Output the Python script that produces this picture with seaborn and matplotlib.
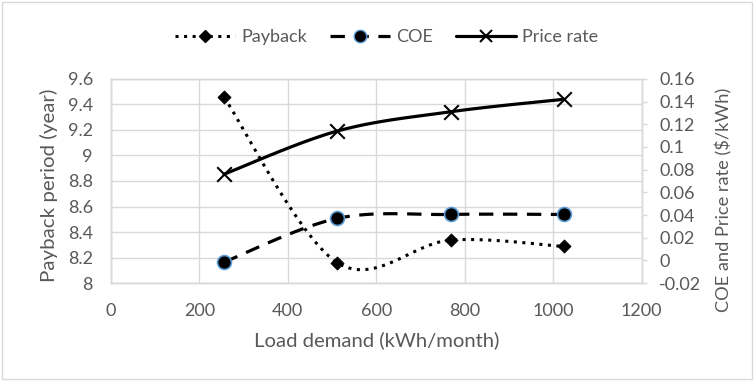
import numpy as np
import matplotlib
matplotlib.use("Agg")
import matplotlib.pyplot as plt
from matplotlib.lines import Line2D
from matplotlib.patches import Rectangle
import seaborn as sns

# Data
load_demand = [256, 512, 768, 1024]
payback = [9.456, 8.16, 8.337, 8.287]
coe = [-0.0015, 0.037, 0.0405, 0.0405]
price_rate = [0.076, 0.114, 0.131, 0.142]


def smooth(xs, ys, n=40):
    # Excel-like smoothed line (Catmull-Rom as cubic Bezier)
    xs = np.asarray(xs, float)
    ys = np.asarray(ys, float)
    px = np.concatenate([[xs[0]], xs, [xs[-1]]])
    py = np.concatenate([[ys[0]], ys, [ys[-1]]])
    t = np.linspace(0, 1, n)
    outx, outy = [], []
    for i in range(1, len(px) - 2):
        c1x = px[i] + (px[i + 1] - px[i - 1]) / 6
        c1y = py[i] + (py[i + 1] - py[i - 1]) / 6
        c2x = px[i + 1] - (px[i + 2] - px[i]) / 6
        c2y = py[i + 1] - (py[i + 2] - py[i]) / 6
        bx = (1 - t) ** 3 * px[i] + 3 * (1 - t) ** 2 * t * c1x + 3 * (1 - t) * t ** 2 * c2x + t ** 3 * px[i + 1]
        by = (1 - t) ** 3 * py[i] + 3 * (1 - t) ** 2 * t * c1y + 3 * (1 - t) * t ** 2 * c2y + t ** 3 * py[i + 1]
        if i > 1:
            bx, by = bx[1:], by[1:]
        outx.extend(bx)
        outy.extend(by)
    return np.array(outx), np.array(outy)


sns.set_style("white")
plt.rcParams['font.family'] = ['Lato', 'DejaVu Sans']
gray_text = '#595959'
grid_col = '#d9d9d9'
dots = (0, (1, 1.8))
dashes = (0, (4.5, 3))

fig = plt.figure(figsize=(7.54, 3.81), dpi=100)
ax = fig.add_axes([0.147, 0.257, 0.704, 0.536])
ax2 = ax.twinx()

# Payback (left axis)
sx, sy = smooth(load_demand, payback)
sns.lineplot(x=sx, y=sy, ax=ax, color='black', linestyle=dots, linewidth=2.2,
             sort=False, estimator=None)
sns.scatterplot(x=load_demand, y=payback, ax=ax, marker='D', s=45, color='black',
                edgecolor='black', zorder=5)

# COE and price rate (right axis)
sx, sy = smooth(load_demand, coe)
sns.lineplot(x=sx, y=sy, ax=ax2, color='black', linestyle=dashes, linewidth=2.3,
             sort=False, estimator=None)
sns.scatterplot(x=load_demand, y=coe, ax=ax2, marker='o', s=100, color='black',
                edgecolor='#5b9bd5', linewidth=1.2, zorder=5)
sx, sy = smooth(load_demand, price_rate)
sns.lineplot(x=sx, y=sy, ax=ax2, color='black', linestyle='-', linewidth=2.3,
             sort=False, estimator=None)
sns.scatterplot(x=load_demand, y=price_rate, ax=ax2, marker='x', s=110, color='black',
                linewidth=1.5, zorder=5)

ax.set_xlim(0, 1200)
ax.set_ylim(8, 9.6)
ax2.set_ylim(-0.02, 0.16)
ax.set_xticks(range(0, 1201, 200))
ax.set_yticks(np.arange(8, 9.61, 0.2))
ax.set_yticklabels(['8', '8.2', '8.4', '8.6', '8.8', '9', '9.2', '9.4', '9.6'])
ax2.set_yticks(np.arange(-0.02, 0.161, 0.02))
ax2.set_yticklabels(['-0.02', '0', '0.02', '0.04', '0.06', '0.08', '0.1', '0.12', '0.14', '0.16'])

ax.grid(True, color=grid_col, linewidth=1)
ax.set_axisbelow(True)
ax.tick_params(axis='x', length=0, labelsize=13, labelcolor=gray_text, pad=14)
ax.tick_params(axis='y', length=0, labelsize=13, labelcolor=gray_text, pad=13)
ax2.tick_params(axis='y', length=3.5, width=1, color=grid_col, direction='out',
                labelsize=13, labelcolor=gray_text, pad=9)
for a in (ax, ax2):
    for s in a.spines.values():
        s.set_color(grid_col)
        s.set_linewidth(1)

xl = ax.set_xlabel('Load demand (kWh/month)', fontsize=14, color=gray_text)
yl = ax.set_ylabel('Payback period (year)', fontsize=14, color=gray_text)
yr = ax2.set_ylabel('COE and Price rate ($/kWh)', fontsize=14, color=gray_text)
ax.xaxis.set_label_coords(0.5, -0.235)
ax.yaxis.set_label_coords(-0.1, 0.48)
ax2.yaxis.set_label_coords(1.139, 0.407)

# scale axis titles to the lengths seen in the original
fig.canvas.draw()
renderer = fig.canvas.get_renderer()
for txt, target, vertical in [(xl, 247, False), (yl, 194, True), (yr, 225, True)]:
    bb = txt.get_window_extent(renderer)
    size = bb.height if vertical else bb.width
    txt.set_fontsize(txt.get_fontsize() * target / size)

handles = [
    Line2D([], [], color='black', linestyle=dots, linewidth=2.2, marker='D', markersize=6.5),
    Line2D([], [], color='black', linestyle=dashes, linewidth=2.3, marker='o', markersize=9,
           markeredgecolor='#5b9bd5'),
    Line2D([], [], color='black', linestyle='-', linewidth=2.3, marker='x', markersize=9, markeredgewidth=1.5),
]
fig.legend(handles, ['Payback', 'COE', 'Price rate'], loc='center', bbox_to_anchor=(0.513, 0.902),
           ncol=3, frameon=False, fontsize=13, labelcolor=gray_text, handlelength=3.3,
           handletextpad=0.35, columnspacing=1.3)

fig.patches.append(Rectangle((0.003, 0.004), 0.994, 0.992, transform=fig.transFigure,
                             fill=False, edgecolor=grid_col, linewidth=1))

fig.savefig('out.png', dpi=100)
